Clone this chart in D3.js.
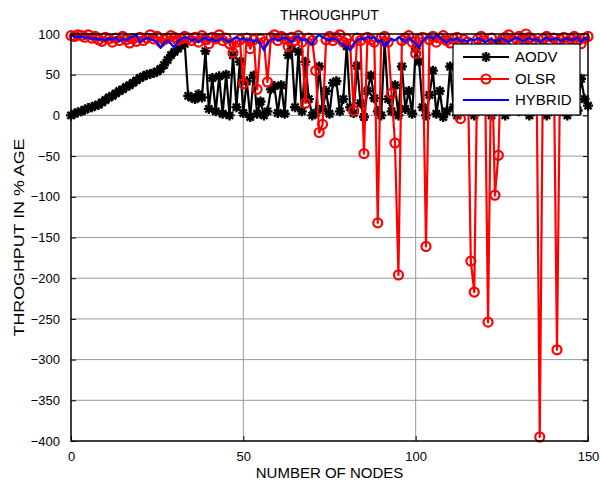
<!DOCTYPE html>
<html><head><meta charset="utf-8">
<script src="https://cdnjs.cloudflare.com/ajax/libs/d3/7.8.5/d3.min.js"></script>
<style>body{margin:0;background:#fff} text{font-family:Arial,"Liberation Sans",sans-serif;fill:#000}</style>
</head><body><svg id="c" width="600" height="482"></svg>
<script>
const aodv = [0,2,4,5,7,9,10,12,13,16,19,22,24,27,30,32,35,37,40,43,46,48,50,51,52,54,57,62,68,74,78,82,86,88,
  24,22,20,26,22,79,8,46,5,48,2,50,0,74,10,66,3,42,-2,49,2,17,0,5,32,36,3,37,2,74,82,10,78,5,66,20,0,3,60,
  8,30,2,40,42,5,20,85,10,3,61,15,-2,30,49,21,5,0,90,20,5,37,0,60,8,30,2,82,66,10,0,25,55,2,30,-2,
  5,60,10,0,45,20,70,5,0,80,30,10,65,0,40,90,15,0,55,20,75,5,35,85,0,50,10,70,25,0,60,15,80,5,40,0,64,30,6,45,20,12];
const olsr = [98,97,99,98,96,99,95,97,93,91,96,94,90,95,92,97,93,89,94,91,96,92,95,99,94,97,90,93,95,98,96,92,94,97,
  95,92,96,90,98,93,88,96,94,99,92,95,88,77,90,93,39,95,82,93,32,94,90,41,96,99,92,97,94,85,96,92,98,90,15,95,92,55,-21,-11,
  93,97,92,96,99,90,94,88,6,95,92,-47,96,93,90,-132,95,97,90,27,-34,-196,92,95,98,90,76,94,96,-161,93,97,90,95,98,92,89,94,96,-4,
  93,90,-179,-217,94,97,92,-254,95,-98,-49,93,96,99,92,95,97,94,100,96,93,90,-395,94,97,92,95,-288,93,96,90,94,97,92,88,95,97];
const hybrid = [98,97,96,97,95,96,94,95,93,94,92,95,93,96,91,94,92,95,97,99,90,93,95,94,92,90,83,90,92,88,83,91,94,96,
  95,92,94,90,93,96,92,94,91,93,95,92,90,94,96,93,95,92,94,90,93,88,80,90,93,95,92,94,96,93,90,95,97,92,94,90,87,95,99,96,
  94,92,95,93,90,86,84,80,88,92,95,93,97,95,96,90,93,84,90,94,92,96,94,90,95,92,88,83,92,95,97,94,99,96,92,89,94,92,95,91,
  93,90,94,92,95,93,90,92,94,91,93,95,92,90,93,96,94,91,93,95,92,94,90,93,96,92,94,95,91,93,95,92,94,96,90,95,93];
const nodes = d3.range(0, 151);
const xTicks = [0, 50, 100, 150];
const yTicks = [100, 50, 0, -50, -100, -150, -200, -250, -300, -350, -400];
const names = ["AODV", "OLSR", "HYBRID"];
const colors = ["#000000", "#ff0000", "#0000ff"];

const L = 71, R = 588, T = 34, B = 441;
const svg = d3.select("#c");
const x = d3.scaleLinear().domain([0, 150]).range([L, R]);
const y = d3.scaleLinear().domain([-400, 100]).range([B, T]);

// grid
const g = svg.append("g");
g.selectAll(".gx").data(xTicks.slice(1, -1)).enter().append("line")
  .attr("x1", d => x(d)).attr("x2", d => x(d)).attr("y1", T).attr("y2", B)
  .attr("stroke", "#999").attr("stroke-width", 1);
g.selectAll(".gy").data(yTicks.slice(1, -1)).enter().append("line")
  .attr("y1", d => y(d)).attr("y2", d => y(d)).attr("x1", L).attr("x2", R)
  .attr("stroke", "#999").attr("stroke-width", 1);

// axes with inward ticks
const axB = d3.axisBottom(x).tickValues(xTicks).tickSizeInner(-5).tickSizeOuter(0).tickPadding(11);
const axL = d3.axisLeft(y).tickValues(yTicks).tickSizeInner(-5).tickSizeOuter(0).tickPadding(11);
const axT = d3.axisTop(x).tickValues(xTicks).tickSizeInner(-5).tickSizeOuter(0).tickFormat("");
const axR = d3.axisRight(y).tickValues(yTicks).tickSizeInner(-5).tickSizeOuter(0).tickFormat("");
function style(sel) {
  sel.select(".domain").remove();
  sel.selectAll(".tick line").attr("stroke", "#000").attr("stroke-width", 1);
  sel.selectAll(".tick text").attr("font-size", 13).attr("font-family", "Arial,'Liberation Sans',sans-serif").attr("fill", "#000");
}
svg.append("g").attr("transform", `translate(0,${B})`).call(axB).call(style);
svg.append("g").attr("transform", `translate(${L},0)`).call(axL).call(style);
svg.append("g").attr("transform", `translate(0,${T})`).call(axT).call(style);
svg.append("g").attr("transform", `translate(${R},0)`).call(axR).call(style);

// series
const line = d3.line().x((d, i) => x(nodes[i])).y(d => y(d));
const starPath = "M0,-5V5M-5,0H5M-3.6,-3.6L3.6,3.6M-3.6,3.6L3.6,-3.6";

svg.append("path").datum(aodv).attr("d", line).attr("fill", "none")
  .attr("stroke", colors[0]).attr("stroke-width", 2.2).attr("stroke-linejoin", "round");
svg.append("g").selectAll("path").data(aodv).enter().append("path")
  .attr("transform", (d, i) => `translate(${x(nodes[i])},${y(d)})`)
  .attr("d", starPath).attr("stroke", colors[0]).attr("stroke-width", 2.4).attr("fill", "none");

svg.append("path").datum(olsr).attr("d", line).attr("fill", "none")
  .attr("stroke", colors[1]).attr("stroke-width", 2.2).attr("stroke-linejoin", "round");
svg.append("g").selectAll("circle").data(olsr).enter().append("circle")
  .attr("cx", (d, i) => x(nodes[i])).attr("cy", d => y(d)).attr("r", 4.5)
  .attr("stroke", colors[1]).attr("stroke-width", 2.2).attr("fill", "none");

svg.append("path").datum(hybrid).attr("d", line).attr("fill", "none")
  .attr("stroke", colors[2]).attr("stroke-width", 2.2).attr("stroke-linejoin", "round");

// box
svg.append("rect").attr("x", L).attr("y", T).attr("width", R - L).attr("height", B - T)
  .attr("fill", "none").attr("stroke", "#000").attr("stroke-width", 1.5);

// legend
const lg = svg.append("g");
lg.append("rect").attr("x", 453).attr("y", 44).attr("width", 127).attr("height", 71)
  .attr("fill", "#fff").attr("stroke", "#000").attr("stroke-width", 1.2);
const ly = [57, 79, 100];
names.forEach((n, i) => {
  lg.append("line").attr("x1", 463).attr("x2", 509).attr("y1", ly[i]).attr("y2", ly[i])
    .attr("stroke", colors[i]).attr("stroke-width", 2.2);
  if (i === 0) lg.append("path").attr("transform", `translate(486,${ly[i]})`).attr("d", starPath)
    .attr("stroke", "#000").attr("stroke-width", 2.4);
  if (i === 1) lg.append("circle").attr("cx", 486).attr("cy", ly[i]).attr("r", 4.5)
    .attr("stroke", "#f00").attr("stroke-width", 2.2).attr("fill", "none");
  lg.append("text").attr("x", 515).attr("y", ly[i]).attr("dy", "0.36em").attr("font-size", 15).text(n);
});

// titles
svg.append("text").attr("x", (L + R) / 2).attr("y", 20).attr("text-anchor", "middle").attr("font-size", 14).text("THROUGHPUT");
svg.append("text").attr("x", (L + R) / 2).attr("y", 478).attr("text-anchor", "middle").attr("font-size", 15).text("NUMBER OF NODES");
svg.append("text").attr("transform", `translate(24,${(T + B) / 2}) rotate(-90)`).attr("text-anchor", "middle")
  .attr("font-size", 15).attr("textLength", 198).attr("lengthAdjust", "spacingAndGlyphs").text("THROGHPUT IN % AGE");
</script></body></html>
